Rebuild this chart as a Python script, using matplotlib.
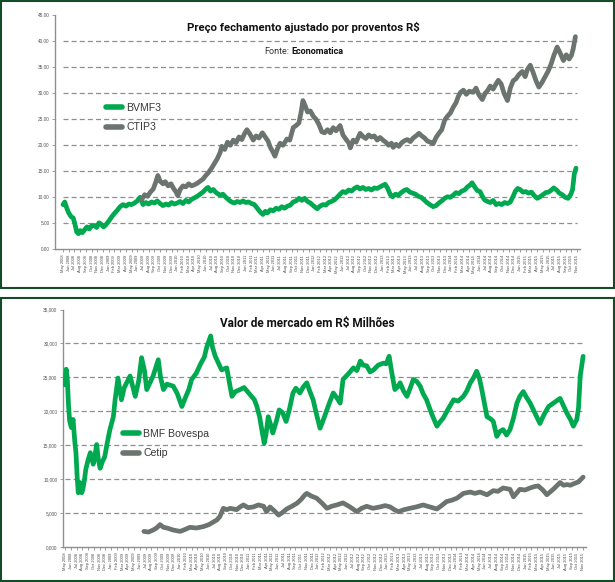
import numpy as np
import matplotlib
matplotlib.use("Agg")
import matplotlib.pyplot as plt
from matplotlib.patches import Rectangle

GREEN = "#00a94f"
GRAY = "#6b746f"
GRID = "#8f8f8f"
BORDER = "#124d28"
NARROW = ["Roboto", "DejaVu Sans"]
SANS = ["Liberation Sans", "DejaVu Sans"]

# month labels of the category axis (one tick per month)
month_names = ["Jan", "Feb", "Mar", "Apr", "May", "Jun",
               "Jul", "Aug", "Sep", "Oct", "Nov", "Dec"]
first_year, first_month, n_months = 2008, 4, 91
tick_labels = []
for i in range(n_months):
    k = first_month + i
    tick_labels.append(f"{month_names[k % 12]} {first_year + k // 12}")

# --- Preço fechamento ajustado (R$) ---
bvmf_t = [0, 0.3, 0.7, 1.0, 1.4, 1.8, 2.1, 2.4, 2.7, 3.0, 3.4, 3.8, 4.2, 4.6, 5.0, 5.5,
          5.9, 6.3, 6.7, 7.1, 7.5, 8.0, 8.5, 9.0, 9.5, 10.0, 10.5, 11.0, 11.5, 12.0, 12.5,
          13.0, 13.5, 14.0, 14.5, 15.0, 15.5, 16.0, 16.5, 17.0, 17.5, 18.0, 18.5, 19.0,
          19.5, 20.0, 20.5, 21.0, 21.5, 22.0, 22.5, 23.0, 23.5, 24.0, 24.5, 25.0, 25.4,
          25.8, 26.3, 26.8, 27.5, 28.0, 28.5, 29.0, 29.5, 30.0, 30.5, 31.0, 31.5, 32.0,
          32.5, 33.0, 33.5, 34.0, 34.5, 35.0, 35.4, 35.8, 36.3, 36.8, 37.3, 37.8, 38.3,
          38.8, 39.3, 39.8, 40.3, 40.8, 41.3, 41.8, 42.3, 42.8, 43.3, 43.8, 44.5, 45.0,
          45.5, 46.0, 46.5, 47.0, 47.5, 48.0, 48.5, 49.0, 49.5, 50.0, 50.5, 51.0, 51.5,
          52.0, 52.5, 53.0, 53.5, 54.0, 54.5, 55.0, 55.5, 56.0, 56.4, 56.8, 57.3, 57.7,
          58.2, 58.7, 59.2, 59.7, 60.2, 60.7, 61.2, 61.7, 62.2, 62.7, 63.2, 63.7, 64.2,
          64.8, 65.3, 65.8, 66.3, 66.8, 67.3, 67.8, 68.3, 68.8, 69.3, 69.8, 70.3, 70.8,
          71.3, 71.6, 72.0, 72.5, 73.0, 73.4, 73.8, 74.3, 74.8, 75.3, 75.8, 76.3, 76.8,
          77.3, 77.8, 78.3, 78.8, 79.2, 79.6, 80.0, 80.5, 81.0, 81.5, 82.0, 82.5, 83.0,
          83.5, 84.0, 84.5, 85.0, 85.5, 85.9, 86.4, 86.9, 87.4, 87.9, 88.4, 88.9, 89.2,
          89.5, 89.8]
bvmf_price = [8.6, 9.1, 7.8, 7.0, 6.3, 6.0, 4.8, 3.3, 3.0, 3.6, 3.2, 3.8, 4.3, 3.9, 4.5, 4.6,
              4.2, 5.1, 4.8, 4.3, 4.7, 5.4, 6.2, 6.9, 7.5, 8.2, 8.6, 8.3, 8.7, 8.6, 8.9,
              9.3, 10.0, 8.6, 9.0, 8.7, 9.1, 8.9, 9.3, 8.8, 8.4, 8.7, 8.5, 9.0,
              8.7, 8.9, 9.2, 8.8, 9.4, 9.1, 9.6, 9.9, 10.2, 10.6, 11.0, 11.6, 11.9,
              11.2, 11.5, 10.9, 10.4, 10.6, 10.0, 9.5, 9.1, 8.9, 9.2, 9.0, 9.3, 9.0,
              9.1, 8.8, 8.6, 7.9, 7.2, 6.7, 7.3, 7.0, 7.6, 7.4, 7.9, 7.7, 8.2,
              7.9, 8.3, 8.5, 9.1, 9.3, 9.8, 9.4, 9.8, 9.2, 8.9, 8.4, 7.8, 8.3,
              8.6, 8.5, 9.0, 9.2, 9.5, 10.0, 10.6, 11.1, 10.9, 11.4, 11.2, 11.7, 12.0,
              11.6, 11.9, 11.5, 11.7, 11.4, 11.8, 11.7, 12.0, 12.3, 12.5, 11.8, 10.5, 10.1,
              10.6, 10.4, 10.9, 11.3, 11.5, 11.0, 10.8, 10.6, 10.2, 10.0, 9.5, 9.0, 8.6,
              8.2, 8.4, 8.9, 9.3, 9.8, 10.1, 10.0, 10.4, 10.9, 10.7, 11.2, 11.4, 12.0,
              12.4, 12.8, 12.1, 11.3, 11.1, 10.2, 9.5, 9.2, 9.0, 9.4, 8.6, 8.8, 8.6,
              9.0, 8.8, 9.1, 10.2, 11.2, 11.7, 11.5, 11.0, 11.1, 10.8, 11.0, 10.3, 9.8,
              10.1, 10.5, 10.9, 11.0, 11.4, 11.8, 11.4, 10.8, 10.5, 10.0, 9.8, 10.6, 11.5,
              14.5, 15.6]

ctip_t = [13.8, 14.3, 14.8, 15.3, 15.8, 16.2, 16.6, 17.0, 17.5, 17.9, 18.4, 18.9, 19.3,
          19.8, 20.1, 20.5, 21.0, 21.5, 22.0, 22.5, 23.0, 23.5, 24.0, 24.5, 25.0, 25.5,
          26.0, 26.5, 27.0, 27.5, 27.8, 28.3, 28.8, 29.3, 29.8, 30.3, 30.8, 31.3, 31.8,
          32.2, 32.7, 33.3, 33.8, 34.3, 34.9, 35.4, 35.9, 36.3, 36.8, 37.1, 37.6, 38.0,
          38.5, 39.2, 39.7, 40.3, 40.8, 41.3, 41.7, 42.0, 42.4, 42.8, 43.3, 43.8, 44.3,
          44.8, 45.3, 45.8, 46.3, 46.8, 47.3, 47.8, 48.5, 49.0, 49.5, 50.0, 50.3, 50.8,
          51.3, 52.0, 52.5, 53.0, 53.5, 54.0, 54.5, 55.0, 55.5, 56.0, 56.5, 57.0, 57.5,
          57.8, 58.3, 58.8, 59.3, 59.8, 60.3, 60.8, 61.3, 61.8, 62.3, 62.8, 63.3, 63.8,
          64.3, 64.8, 65.3, 65.8, 66.3, 66.8, 67.3, 67.8, 68.3, 68.8, 69.2, 69.6, 70.1,
          70.6, 71.1, 71.8, 72.3, 72.8, 73.4, 73.9, 74.3, 74.8, 75.3, 75.8, 76.2, 76.7,
          77.2, 77.8, 78.3, 78.8, 79.3, 79.8, 80.4, 80.9, 81.3, 81.8, 82.3, 82.8, 83.3,
          83.8, 84.3, 84.9, 85.4, 85.9, 86.5, 87.0, 87.6, 88.1, 88.6, 89.0, 89.3, 89.7]
ctip_price = [9.6, 10.5, 10.2, 11.0, 11.6, 12.8, 14.2, 13.1, 12.6, 13.0, 12.2, 12.6, 11.8,
              11.0, 10.3, 11.5, 12.2, 12.0, 12.6, 12.2, 12.4, 12.7, 13.1, 13.5, 14.2, 14.8,
              15.6, 16.5, 17.4, 18.6, 19.8, 19.2, 20.6, 20.0, 21.0, 20.5, 21.6, 21.1, 22.3,
              23.0, 22.2, 21.0, 21.8, 21.4, 22.4, 21.6, 20.8, 19.6, 18.6, 17.9, 19.5, 20.4,
              20.0, 21.2, 21.0, 23.4, 23.8, 24.3, 26.5, 28.6, 27.6, 26.4, 26.6, 25.6, 25.0,
              24.0, 22.6, 22.4, 23.0, 22.4, 23.4, 22.8, 23.8, 22.0, 21.2, 20.5, 19.5, 21.0,
              20.6, 22.3, 21.7, 21.3, 22.0, 21.6, 21.8, 21.0, 21.5, 21.0, 20.6, 20.0, 20.4,
              19.6, 20.2, 19.8, 20.5, 20.9, 21.1, 20.7, 21.4, 21.8, 22.3, 21.8, 21.4, 20.8,
              20.6, 20.3, 21.5, 22.3, 23.0, 24.8, 25.6, 26.2, 27.3, 28.2, 29.4, 30.2, 30.6,
              29.8, 30.4, 30.2, 31.0, 29.7, 28.8, 30.0, 30.5, 31.4, 30.8, 31.8, 32.5, 31.8,
              30.0, 28.6, 31.0, 32.4, 32.8, 33.6, 34.2, 33.2, 34.6, 35.4, 34.0, 32.4, 31.2,
              32.0, 33.0, 34.2, 35.5, 37.2, 38.9, 37.8, 36.3, 37.4, 36.6, 37.3, 38.5, 40.9]

# --- Valor de mercado (R$ milhões) ---
bmf_t = [0.0, 0.2, 0.4, 0.6, 0.8, 1.1, 1.4, 1.7, 1.9, 2.1, 2.3, 2.6, 2.9, 3.1, 3.4, 3.6,
         4.0, 4.4, 4.9, 5.2, 5.5, 5.8, 6.1, 6.5, 6.9, 7.3, 7.8, 8.2, 8.4, 8.7, 9.2, 9.8,
         10.3, 11.3, 12.2, 12.8, 13.3, 13.8, 14.2, 14.8, 15.3, 16.2, 16.6, 17.1, 17.7,
         18.8, 19.5, 20.3, 20.9, 21.5, 22.0, 22.8, 23.5, 24.2, 24.6, 25.3, 25.6, 26.1,
         26.7, 27.2, 28.1, 28.6, 29.0, 29.6, 30.4, 31.1, 32.0, 32.9, 33.3, 33.8, 34.2,
         34.6, 34.9, 35.3, 35.8, 36.1, 36.8, 37.2, 37.8, 38.4, 38.9, 39.6, 40.1, 40.8,
         41.4, 42.0, 42.5, 43.1, 43.7, 44.3, 44.9, 45.5, 46.0, 46.6, 47.2, 47.8, 48.3,
         49.2, 50.1, 50.7, 51.3, 51.8, 52.4, 53.0, 53.6, 54.4, 55.3, 55.8, 56.3, 56.8,
         57.3, 57.8, 58.2, 58.8, 59.4, 60.0, 60.5, 61.1, 61.7, 62.2, 62.8, 63.7, 64.6,
         65.1, 65.7, 66.6, 67.5, 68.3, 69.2, 69.8, 70.4, 71.0, 71.5, 72.0, 72.4, 72.9,
         73.3, 73.9, 74.4, 75.0, 75.5, 76.1, 76.7, 77.3, 77.9, 78.5, 79.0, 79.6, 80.2,
         80.8, 81.6, 82.5, 83.2, 84.0, 85.0, 86.0, 86.6, 87.2, 87.8, 88.3, 88.9, 89.2,
         89.5, 89.8, 90.0]
bmf_cap = [23900, 26200, 24800, 21000, 18600, 17600, 18800, 15500, 13900, 10500, 8000,
           9500, 8000, 8500, 10000, 11400, 12800, 13900, 12200, 13500, 15100, 12800,
           11600, 12600, 13300, 15200, 17300, 18600, 19200, 21700, 24900, 21700, 23500,
           25200, 22200, 24500, 27900, 26000, 23200, 24300, 25200, 27600, 25000, 23200,
           24000, 23700, 22600, 20700, 22000, 23200, 24700, 25600, 26900, 28000, 29400,
           31100, 29500, 28100, 27000, 26100, 26400, 24000, 22200, 22900, 23200, 23500,
           22600, 21700, 20800, 19200, 17200, 15300, 16500, 19200, 17800, 16800, 18800,
           20200, 19800, 18500, 20000, 22700, 23400, 22700, 23600, 24200, 23000, 21700,
           19500, 17500, 18800, 20200, 21400, 22700, 22000, 21200, 24700, 25500, 26400,
           26000, 27400, 26800, 26700, 25800, 26100, 26800, 27100, 27000, 28100, 25500,
           23200, 23600, 24200, 23000, 22200, 23500, 24700, 24400, 23700, 22600, 21700,
           19600, 17800, 18400, 19000, 20400, 21700, 21500, 22200, 23000, 24200, 25000,
           25900, 24800, 23200, 21000, 19200, 18900, 18500, 16300, 17000, 17300, 16500,
           17300, 19000, 21200, 22200, 22900, 22000, 21200, 19800, 18200, 19500, 20700,
           21300, 21900, 20800, 19700, 18800, 17800, 18800, 20500, 25200, 27000, 28100]

cetip_t = [13.7, 14.5, 15.3, 15.9, 16.5, 17.1, 17.7, 18.8, 20.0, 20.9, 21.7, 22.8, 24.0,
           25.0, 25.8, 26.4, 26.9, 27.5, 28.1, 28.7, 29.8, 30.4, 31.0, 31.8, 32.7, 33.6,
           34.5, 35.0, 35.6, 36.4, 37.1, 37.8, 38.5, 39.4, 40.3, 41.0, 41.7, 42.0, 42.8,
           43.7, 44.6, 45.5, 46.3, 47.2, 48.3, 49.5, 50.7, 51.5, 52.4, 53.5, 54.7, 55.6,
           56.5, 57.2, 57.9, 58.9, 59.9, 61.0, 62.2, 63.4, 64.6, 65.4, 66.3, 67.2, 68.1,
           69.2, 70.4, 71.2, 72.1, 73.3, 74.4, 75.2, 76.1, 77.3, 77.9, 79.0, 79.9, 80.8,
           81.5, 82.2, 83.0, 83.7, 84.8, 85.4, 86.0, 86.6, 87.2, 87.8, 88.3, 89.2, 90.0]
cetip_cap = [2300, 2200, 2500, 2800, 3300, 2900, 2800, 2500, 2300, 2600, 2900, 2800, 3000,
             3300, 3700, 4000, 4500, 5700, 5500, 5700, 5500, 5900, 6200, 5800, 5900, 6200,
             6000, 5200, 5900, 5300, 4700, 5100, 5600, 6000, 6450, 7000, 7700, 7900, 7500,
             7200, 6500, 5700, 6000, 6200, 6500, 5900, 5200, 5700, 6000, 5700, 5900, 6100,
             5900, 5500, 5200, 5500, 5700, 5900, 6200, 5900, 5600, 6100, 6700, 6900, 7200,
             7900, 8100, 7900, 8100, 7700, 8300, 8200, 8700, 8500, 7400, 8500, 8400, 8700,
             8900, 9000, 8400, 7700, 8500, 9000, 9500, 9100, 9200, 9100, 9300, 9600, 10300]

price_ticks = [0, 5, 10, 15, 20, 25, 30, 35, 40, 45]
price_tick_labels = ["0.00", "5.00", "10.00", "15.00", "20.00", "25.00",
                     "30.00", "35.00", "40.00", "45.00"]
cap_ticks = [0, 5000, 10000, 15000, 20000, 25000, 30000, 35000]
cap_tick_labels = ["0,000", "5,000", "10,000", "15,000", "20,000", "25,000",
                   "30,000", "35,000"]

W, H = 615, 582
fig = plt.figure(figsize=(W / 100, H / 100), dpi=100)


def px_box(left, right, top, bottom):
    # pixel box (origin top-left) -> figure fraction rectangle
    return [left / W, 1 - bottom / H, (right - left) / W, (bottom - top) / H]


def style_axes(ax, ticks, labels, x_left, x_right):
    ax.set_xlim(x_left, x_right)
    ax.set_ylim(ticks[0], ticks[-1])
    for side in ["top", "right"]:
        ax.spines[side].set_visible(False)
    for side in ["left", "bottom"]:
        ax.spines[side].set_color(GRID)
        ax.spines[side].set_linewidth(1.0)
    ax.set_yticks(ticks)
    ax.set_yticklabels(labels, fontsize=3.4, color="#555555", family=SANS)
    ax.set_xticks(range(n_months))
    ax.set_xticklabels(tick_labels, rotation=90, fontsize=2.9,
                       color="#4a4a4a", family=SANS)
    ax.tick_params(axis="x", length=2.5, width=0.6, color=GRID, pad=1.5)
    ax.tick_params(axis="y", length=2, width=0.6, color=GRID, pad=2)
    ax.hlines(ticks[1:-1], 0, n_months - 1, colors=GRID, linestyles=(0, (4, 2.5)),
              linewidth=0.9, zorder=1)


def add_legend(ax, x, y):
    leg = ax.legend(loc="upper left", bbox_to_anchor=(x / W, 1 - y / H),
                    bbox_transform=fig.transFigure, frameon=False, borderpad=0,
                    borderaxespad=0, handlelength=1.5, handletextpad=0.4,
                    labelspacing=0.9, prop={"family": SANS, "size": 7.6})
    for t in leg.get_texts():
        t.set_color("#3a3838")
    for h in leg.get_lines():
        h.set_linewidth(4)


# top panel
ax1 = fig.add_axes(px_box(55, 580, 15.3, 249.3))
style_axes(ax1, price_ticks, price_tick_labels, -1.4, 90.5)
ax1.plot(bvmf_t, bvmf_price, color=GREEN, lw=3.4, label="BVMF3",
         solid_joinstyle="round", solid_capstyle="round", zorder=3)
ax1.plot(ctip_t, ctip_price, color=GRAY, lw=3.4, label="CTIP3",
         solid_joinstyle="round", solid_capstyle="round", zorder=3)
add_legend(ax1, 106, 103)

fig.text(303 / W, 1 - 27 / H, "Preço fechamento ajustado por proventos R$",
         ha="center", va="center", fontsize=8.2, fontweight="bold",
         family=NARROW, color="#111111")
fig.text(289 / W, 1 - 52 / H, "Fonte:", ha="right", va="center", fontsize=6.5,
         family=NARROW, color="#333333")
fig.text(291 / W, 1 - 52 / H, "Economatica", ha="left", va="center", fontsize=6.5,
         fontweight="bold", family=NARROW, color="#111111")

# bottom panel
ax2 = fig.add_axes(px_box(63, 586, 309.5, 547))
style_axes(ax2, cap_ticks, cap_tick_labels, -0.35, 90.5)
ax2.plot(bmf_t, bmf_cap, color=GREEN, lw=3.4, label="BMF Bovespa",
         solid_joinstyle="round", solid_capstyle="round", zorder=3)
ax2.plot(cetip_t, cetip_cap, color=GRAY, lw=3.4, label="Cetip",
         solid_joinstyle="round", solid_capstyle="round", zorder=3)
add_legend(ax2, 123, 429)

fig.text(307 / W, 1 - 323 / H, "Valor de mercado em R$ Milhões",
         ha="center", va="center", fontsize=8.5, fontweight="bold",
         family=NARROW, color="#111111")

# panel frames
for top, bottom in [(1, 288), (298, 581)]:
    fig.add_artist(Rectangle((1 / W, 1 - bottom / H), (613 / W), (bottom - top) / H,
                             transform=fig.transFigure, fill=False,
                             edgecolor=BORDER, linewidth=1.5))

fig.savefig("out.png", dpi=100)
